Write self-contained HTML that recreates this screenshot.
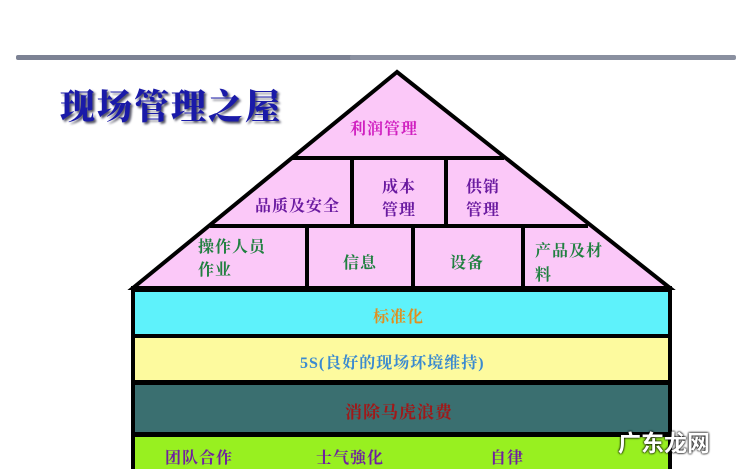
<!DOCTYPE html>
<html><head><meta charset="utf-8"><style>
body{margin:0;width:750px;height:469px;background:#fff;overflow:hidden;position:relative;font-family:"Liberation Serif","Noto Serif CJK SC",serif}
.t{position:absolute;font-weight:bold;white-space:nowrap;letter-spacing:1px}
</style></head><body>
<div style="position:absolute;left:16px;top:55px;width:344px;height:5px;background:#7c8294;border-radius:2px"></div>
<div style="position:absolute;left:350px;top:55px;width:386px;height:5px;background:#8a90a0;border-radius:2px"></div>
<div class="t" style="left:60px;top:80px;font-size:35px;color:#1a1aa8;letter-spacing:2px;text-shadow:2px 2px 2px #556;font-family:'Noto Serif CJK SC',serif;font-weight:900">现场管理之屋</div>
<svg width="750" height="469" style="position:absolute;left:0;top:0">
<g stroke="#000" stroke-width="4">
<polygon points="397,72 133,288 670,288" fill="#fbc8f8"/>
<line x1="292" y1="158" x2="504" y2="158"/>
<line x1="210" y1="226" x2="588" y2="226"/>
<line x1="352" y1="158" x2="352" y2="226"/>
<line x1="446" y1="158" x2="446" y2="226"/>
<line x1="307" y1="226" x2="307" y2="288"/>
<line x1="413" y1="226" x2="413" y2="288"/>
<line x1="523" y1="226" x2="523" y2="288"/>
<rect x="133" y="288" width="537" height="190" fill="#000"/>
</g>
<rect x="135" y="292" width="533" height="42" fill="#5ef2fb"/>
<rect x="135" y="338" width="533" height="42" fill="#fdfa9e"/>
<rect x="135" y="385" width="533" height="47" fill="#3a6f70"/>
<rect x="135" y="437" width="533" height="40" fill="#98f020"/>
</svg>
<div class="t" style="left:350px;top:116px;font-size:16px;color:#d020c0">利润管理</div>
<div class="t" style="left:255px;top:193px;font-size:16px;color:#6a1aa0">品质及安全</div>
<div class="t" style="left:382px;top:176px;font-size:16px;color:#6a1aa0;line-height:23px">成本<br>管理</div>
<div class="t" style="left:466px;top:176px;font-size:16px;color:#6a1aa0;line-height:23px">供销<br>管理</div>
<div class="t" style="left:198px;top:236px;font-size:16px;color:#208040;line-height:23px">操作人员<br>作业</div>
<div class="t" style="left:343px;top:250px;font-size:16px;color:#208040">信息</div>
<div class="t" style="left:450px;top:250px;font-size:16px;color:#208040">设备</div>
<div class="t" style="left:535px;top:240px;font-size:16px;color:#208040;line-height:24px">产品及材<br>料</div>
<div class="t" style="left:373px;top:304px;font-size:16px;color:#e09020">标准化</div>
<div class="t" style="left:300px;top:350px;font-size:16px;color:#3a8ad0">5S(良好的现场环境维持)</div>
<div class="t" style="left:345px;top:398px;font-size:17px;color:#a01818">消除马虎浪费</div>
<div class="t" style="left:165px;top:445px;font-size:16px;color:#7020a0">团队合作</div>
<div class="t" style="left:316px;top:445px;font-size:16px;color:#7020a0">士气強化</div>
<div class="t" style="left:490px;top:445px;font-size:16px;color:#7020a0">自律</div>
<div class="t" style="left:618px;top:424px;font-size:23px;letter-spacing:0;color:#fff;font-family:'Noto Sans CJK SC',sans-serif;text-shadow:0 0 2px #000,0 0 2px #000">广东龙网</div>
</body></html>
